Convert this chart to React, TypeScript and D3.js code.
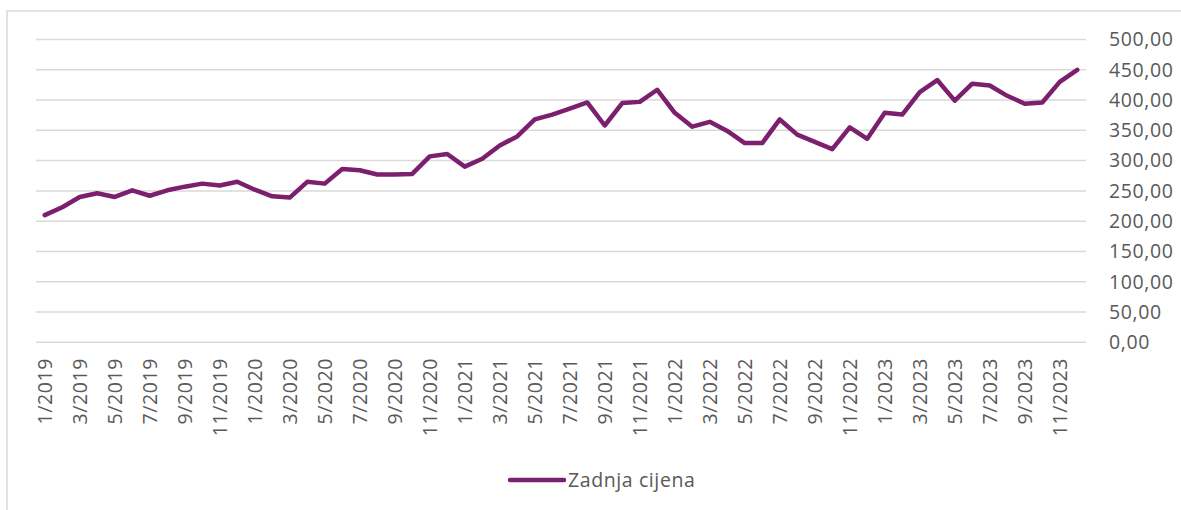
import React from "react";
import * as d3 from "d3";

const months: string[] = [];
for (let y = 2019; y <= 2023; y++) for (let m = 1; m <= 12; m++) months.push(`${m}/${y}`);

const values: number[] = [
  210, 223, 240, 246, 240, 251, 242, 251, 257, 262, 259, 265,
  252, 241, 239, 265, 262, 286, 284, 277, 277, 278, 307, 311,
  290, 303, 325, 340, 368, 376, 386, 396, 358, 395, 397, 417,
  379, 356, 364, 349, 329, 329, 368, 343, 331, 319, 355, 336,
  379, 376, 413, 433, 399, 427, 424, 407, 394, 396, 430, 450,
];

const yTicks: number[] = [0, 50, 100, 150, 200, 250, 300, 350, 400, 450, 500];
const seriesName = "Zadnja cijena";

const W = 1181, H = 510;
const left = 36, right = 1086, top = 39.5, bottom = 342.3;
const color = "#7b1f6e";
const textColor = "#595959";
const font = "'Open Sans', 'Noto Sans', sans-serif";
const fs = 19.5;
const ls = 0.6;

export default function App() {
  const x = d3.scaleBand<string>().domain(months).range([left, right]);
  const y = d3.scaleLinear().domain([0, 500]).range([bottom, top]);
  const line = d3
    .line<number>()
    .x((_, i) => (x(months[i]) as number) + x.bandwidth() / 2)
    .y((d) => y(d));
  const fmt = (v: number) => v.toFixed(2).replace(".", ",");
  return (
    <svg width={W} height={H} style={{ position: "absolute", left: 0, top: 0 }} fontFamily={font}>
      <rect x={0} y={0} width={W} height={H} fill="#fff" />
      <path d={`M7,${H + 5}V11H${W + 5}`} fill="none" stroke="#d9d9d9" strokeWidth={1.5} />
      {yTicks.map((t) => (
        <g key={t}>
          <line x1={left} x2={right} y1={y(t)} y2={y(t)} stroke="#d9d9d9" strokeWidth={1.5} />
          <text x={1109} y={y(t)} dy="0.35em" fontSize={fs} letterSpacing={ls} fill={textColor}>
            {fmt(t)}
          </text>
        </g>
      ))}
      {months.map((m, i) =>
        i % 2 === 0 ? (
          <text
            key={m}
            transform={`translate(${(x(m) as number) + x.bandwidth() / 2},358) rotate(-90)`}
            textAnchor="end"
            dy="0.35em"
            fontSize={fs}
            letterSpacing={ls}
            fill={textColor}
          >
            {m}
          </text>
        ) : null
      )}
      <path d={line(values) || ""} fill="none" stroke={color} strokeWidth={4.5} strokeLinejoin="round" strokeLinecap="round" />
      <line x1={510} x2={564} y1={480} y2={480} stroke={color} strokeWidth={4.5} strokeLinecap="round" />
      <text x={568} y={480} dy="0.35em" fontSize={fs} letterSpacing={ls} fill={textColor}>
        {seriesName}
      </text>
    </svg>
  );
}
